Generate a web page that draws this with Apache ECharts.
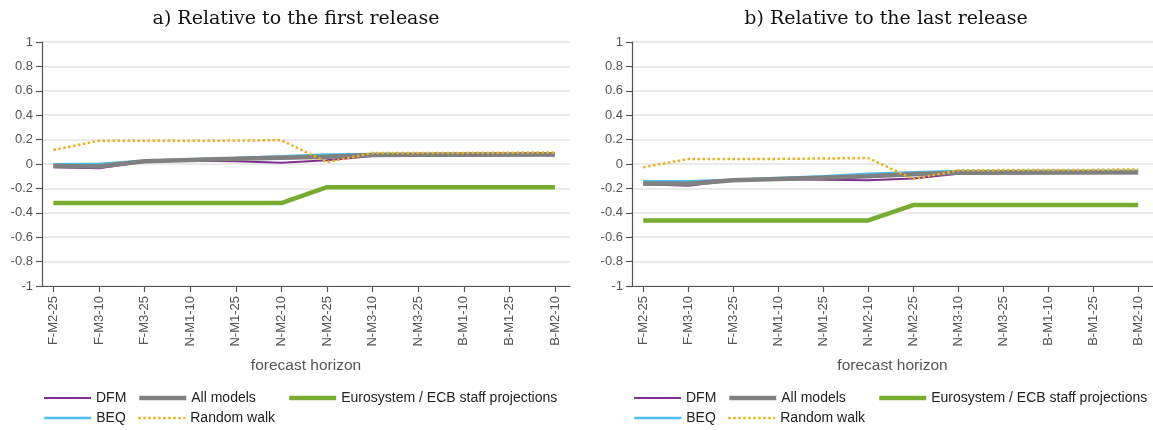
<!DOCTYPE html>
<html>
<head>
<meta charset="utf-8">
<script src="https://cdn.jsdelivr.net/npm/echarts@6/dist/echarts.min.js"></script>
<style>html,body{margin:0;padding:0;background:#fff}#c{width:1153px;height:430px}</style>
</head>
<body>
<div id="c"></div>
<script>
const horizons = ['F-M2-25','F-M3-10','F-M3-25','N-M1-10','N-M1-25','N-M2-10','N-M2-25','N-M3-10','N-M3-25','B-M1-10','B-M1-25','B-M2-10'];
const yTicks = [-1,-0.8,-0.6,-0.4,-0.2,0,0.2,0.4,0.6,0.8,1];
const titles = ['a) Relative to the first release','b) Relative to the last release'];
const seriesNames = ['DFM','BEQ','All models','Random walk','Eurosystem / ECB staff projections'];

// Panel a
const dfmA   = [-0.027,-0.035,0.020,0.027,0.022,0.011,0.030,0.066,0.067,0.068,0.069,0.070];
const beqA   = [-0.003,0.003,0.027,0.038,0.050,0.063,0.077,0.082,0.083,0.084,0.085,0.085];
const allA   = [-0.016,-0.020,0.022,0.033,0.044,0.052,0.060,0.074,0.076,0.077,0.078,0.080];
const rwA    = [0.115,0.190,0.190,0.190,0.192,0.195,0.015,0.090,0.090,0.091,0.093,0.095];
const ecbA   = [-0.32,-0.32,-0.32,-0.32,-0.32,-0.32,-0.19,-0.19,-0.19,-0.19,-0.19,-0.19];
// Panel b
const dfmB   = [-0.167,-0.178,-0.134,-0.126,-0.129,-0.134,-0.118,-0.079,-0.077,-0.076,-0.075,-0.075];
const beqB   = [-0.142,-0.142,-0.129,-0.115,-0.101,-0.079,-0.068,-0.058,-0.057,-0.056,-0.055,-0.055];
const allB   = [-0.159,-0.162,-0.134,-0.123,-0.112,-0.101,-0.085,-0.071,-0.070,-0.069,-0.068,-0.068];
const rwB    = [-0.027,0.041,0.041,0.042,0.045,0.049,-0.123,-0.052,-0.050,-0.050,-0.048,-0.044];
const ecbB   = [-0.463,-0.463,-0.463,-0.463,-0.463,-0.463,-0.337,-0.337,-0.337,-0.337,-0.337,-0.337];

const panels = [[dfmA,beqA,allA,rwA,ecbA],[dfmB,beqB,allB,rwB,ecbB]];
const styles = [
  {color:'#7E2F8E', width:2, type:'solid'},
  {color:'#4DBEEE', width:2.5, type:'solid'},
  {color:'#808080', width:4.5, type:'solid'},
  {color:'#EDB120', width:2.5, type:'dotted'},
  {color:'#77AC30', width:4.5, type:'solid'}
];
const zOrder = [2,3,4,6,5];

const gridLefts = [42, 632];
const titleCenters = [291, 881];
const font = 'Liberation Sans, Arial, sans-serif';

const option = {
  animation:false,
  backgroundColor:'#fff',
  title: titles.map((t,i)=>({
    text:t, left: titleCenters[i], top: 5, textAlign:'center',
    textStyle:{fontFamily:'DejaVu Serif, Liberation Serif, serif', fontWeight:'normal', fontSize:19, color:'#111'}
  })),
  grid: gridLefts.map(l=>({left:l, top:42, width:528, height:244, containLabel:false})),
  xAxis: gridLefts.map((l,i)=>({
    type:'value', gridIndex:i, min:0.75, max:12.33,
    name:'forecast horizon', nameLocation:'middle', nameGap:72,
    nameTextStyle:{fontFamily:font, fontSize:15.5, color:'#555'},
    axisLine:{show:true, onZero:false, lineStyle:{color:'#555', width:1.2}},
    axisTick:{show:true, length:6, customValues:horizons.map((h,k)=>k+1), lineStyle:{color:'#555', width:1.2}},
    splitLine:{show:false},
    axisLabel:{rotate:90, fontFamily:font, fontSize:13, color:'#555', margin:10,
      customValues:horizons.map((h,k)=>k+1),
      formatter:(v)=>horizons[Math.round(v)-1] || ''}
  })),
  yAxis: gridLefts.map((l,i)=>({
    type:'value', gridIndex:i, min:-1, max:1, interval:0.2,
    axisLine:{show:true, lineStyle:{color:'#555', width:1.2}},
    axisTick:{show:true, length:6, lineStyle:{color:'#555', width:1.2}},
    splitLine:{show:true, lineStyle:{color:'#e3e3e3', width:1.5}},
    axisLabel:{fontFamily:font, fontSize:13, color:'#555', margin:9,
      formatter:(v)=>String(Math.round(v*10)/10)}
  })),
  legend: [],
  series: []
};

panels.forEach((p,pi)=>{
  p.forEach((arr,si)=>{
    option.series.push({
      name: seriesNames[si] + (pi? ' ':''),
      type:'line', xAxisIndex:pi, yAxisIndex:pi,
      data: arr.map((v,k)=>[k+1,v]),
      symbol:'none', z:zOrder[si],
      lineStyle:{color:styles[si].color, width:styles[si].width, type:styles[si].type},
      itemStyle:{color:styles[si].color}
    });
  });
  const pos = [[1,391],[1,411],[95,391],[95,411],[245,391]];
  seriesNames.forEach((n,si)=>{
    option.legend.push({
      data:[n + (pi? ' ':'')],
      left: gridLefts[pi] + pos[si][0], top: pos[si][1],
      itemWidth:47, itemHeight:14, itemGap:5, padding:0,
      itemStyle:{opacity:0},
      lineStyle:{color:styles[si].color, width:styles[si].width, type:styles[si].type},
      textStyle:{fontFamily:font, fontSize:14, color:'#222'},
      formatter:(name)=>name.trim(),
      selectedMode:false
    });
  });
});

const chart = echarts.init(document.getElementById('c'), null, {renderer:'canvas'});
chart.setOption(option);
</script>
</body>
</html>
